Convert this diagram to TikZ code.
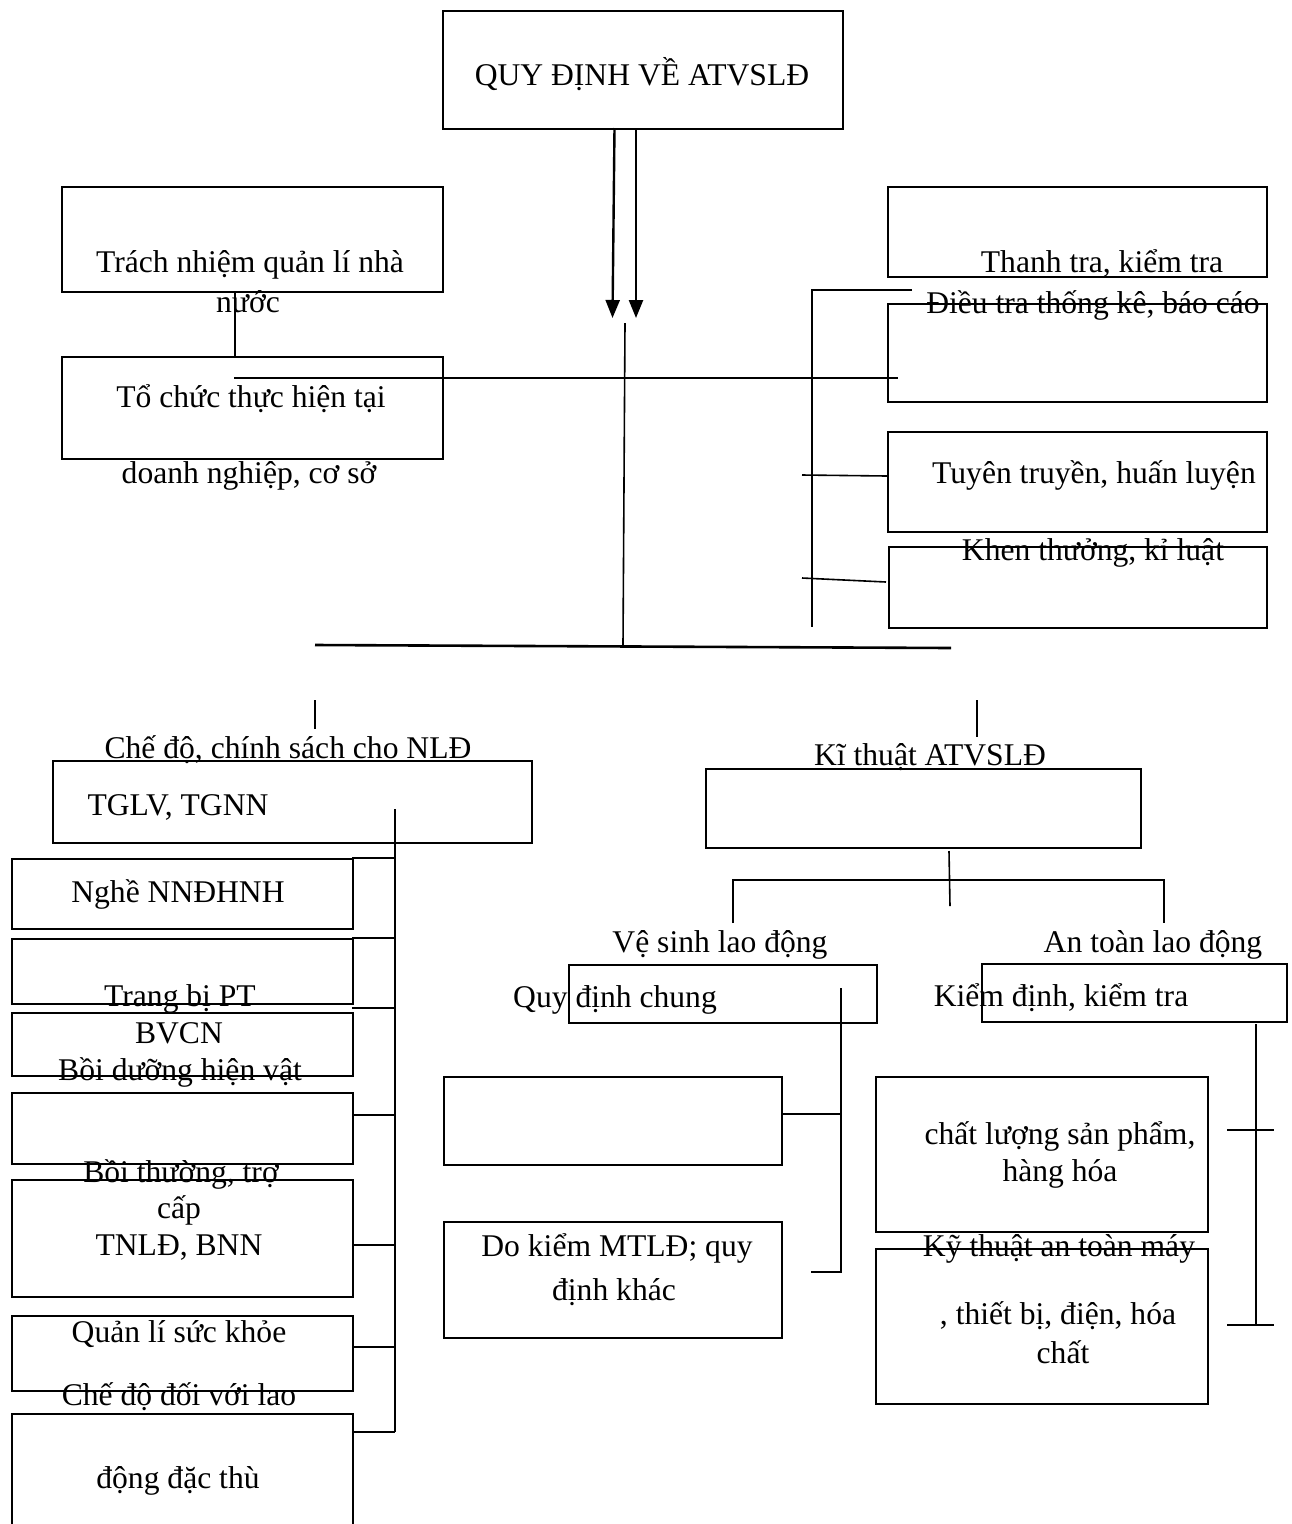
\documentclass[tikz,border=0pt]{standalone}
\usepackage{fontspec}
\setmainfont{Liberation Serif}
\usetikzlibrary{arrows.meta}
\tikzset{
  bx/.style={draw, line width=1.9pt, inner sep=0pt, anchor=north west},
  lbl/.style={anchor=base, inner sep=0pt, font=\fontsize{31.6}{36}\selectfont},
  ln/.style={line width=2.6pt},
  thinln/.style={line width=1.6pt},
  arr/.style={line width=2.4pt, -{Triangle[width=14pt,length=18pt]}},
}
\newcommand\bbox[5]{\node[bx, minimum width={(#4-#2)*1pt}, minimum height={(#5-#3)*1pt}] (#1) at (#2,#3) {};}
\begin{document}
\begin{tikzpicture}[x=1pt, y=-1pt]
\fill[white] (0,0) rectangle (1292,1524);
\useasboundingbox (0,0) rectangle (1292,1524);
\begin{scope}
\clip (0,0) rectangle (1292,1524);
% ---------- boxes ----------
\bbox{top}{442}{10}{842}{128}
\bbox{tn}{61}{186}{442}{291}
\bbox{tc}{61}{356}{442}{458}
\bbox{tt}{887}{186}{1266}{276}
\bbox{dt}{887}{303}{1266}{401}
\bbox{tu}{887}{431}{1266}{531}
\bbox{kt}{888}{546}{1266}{627}
\bbox{cd}{52}{760}{531}{842}
\bbox{bA}{11}{858}{352}{928}
\bbox{bB}{11}{938}{352}{1003}
\bbox{bC}{11}{1012}{352}{1075}
\bbox{bD}{11}{1092}{352}{1163}
\bbox{bE}{11}{1179}{352}{1296}
\bbox{bF}{11}{1315}{352}{1390}
\bbox{bG}{11}{1413}{352}{1540}
\bbox{kth}{705}{768}{1140}{847}
\bbox{qd}{568}{964}{876}{1022}
\bbox{eA}{443}{1076}{781}{1164}
\bbox{dk}{443}{1221}{781}{1337}
\bbox{kd}{981}{963}{1286}{1021}
\bbox{cl}{875}{1076}{1207}{1231}
\bbox{ky}{875}{1248}{1207}{1403}
% ---------- texts ----------
\node[lbl] (l1) at (642,85) {QUY ĐỊNH VỀ ATVSLĐ};
\node[lbl] (l2) at (250,272) {Trách nhiệm quản lí nhà};
\node[lbl] (l3) at (248,312) {nước};
\node[lbl] (l4) at (251,407) {Tổ chức thực hiện tại};
\node[lbl] (l5) at (249,483) {doanh nghiệp, cơ sở};
\node[lbl] (l6) at (1102,272) {Thanh tra, kiểm tra};
\node[lbl] (l7) at (1093,313) {Điều tra thống kê, báo cáo};
\node[lbl] (l8) at (1094,483) {Tuyên truyền, huấn luyện};
\node[lbl] (l9) at (1093,560) {Khen thưởng, kỉ luật};
\node[lbl] (l10) at (288,758) {Chế độ, chính sách cho NLĐ};
\node[lbl] (l11) at (930,765) {Kĩ thuật ATVSLĐ};
\node[lbl] (l12) at (178,815) {TGLV, TGNN};
\node[lbl] (l13) at (178,902) {Nghề NNĐHNH};
\node[lbl] (l14) at (180,1006) {Trang bị PT};
\node[lbl] (l15) at (179,1043) {BVCN};
\node[lbl] (l16) at (180,1080) {Bồi dưỡng hiện vật};
\node[lbl] (l17) at (181,1182) {Bồi thường, trợ};
\node[lbl] (l18) at (179,1218) {cấp};
\node[lbl] (l19) at (179,1255) {TNLĐ, BNN};
\node[lbl] (l20) at (179,1342) {Quản lí sức khỏe};
\node[lbl] (l21) at (179,1405) {Chế độ đối với lao};
\node[lbl] (l22) at (178,1488) {động đặc thù};
\node[lbl] (l23) at (720,952) {Vệ sinh lao động};
\node[lbl] (l24) at (615,1007) {Quy định chung};
\node[lbl] (l25) at (617,1256) {Do kiểm MTLĐ; quy};
\node[lbl] (l26) at (614,1300) {định khác};
\node[lbl] (l27) at (1153,952) {An toàn lao động};
\node[lbl] (l28) at (1061,1006) {Kiểm định, kiểm tra};
\node[lbl] (l29) at (1060,1144) {chất lượng sản phẩm,};
\node[lbl] (l30) at (1060,1181) {hàng hóa};
\node[lbl] (l31) at (1059,1256) {Kỹ thuật an toàn máy};
\node[lbl] (l32) at (1058,1324) {, thiết bị, điện, hóa};
\node[lbl] (l33) at (1063,1363) {chất};
% ---------- coordinates ----------
\coordinate (aL1) at (614.5,128); \coordinate (aL2) at (612.5,318);
\coordinate (aR1) at (636,128);   \coordinate (aR2) at (636,318);
\coordinate (cv1) at (625,323);   \coordinate (cv2) at (623,645);
\coordinate (hA) at (234,378);    \coordinate (hB) at (898,378);
\coordinate (lv1) at (235,291);   \coordinate (lv2) at (235,356);
\coordinate (rb1) at (812,290);   \coordinate (rb2) at (812,627);
\coordinate (rb3) at (912,290);
\coordinate (rc1) at (802,475);   \coordinate (rc2) at (887,476);
\coordinate (rd1) at (802,578);   \coordinate (rd2) at (886,582);
\coordinate (bh1) at (315,645);   \coordinate (bh2) at (951,648);
\coordinate (tk1) at (315,700);   \coordinate (tk2) at (315,729);
\coordinate (tk3) at (977,700);   \coordinate (tk4) at (977,737);
\coordinate (lb1) at (395,809);   \coordinate (lb2) at (395,1432);
\coordinate (kv1) at (949,851);   \coordinate (kv2) at (950,906);
\coordinate (kh1) at (733,880);   \coordinate (kh2) at (1164,880);
\coordinate (kh3) at (733,923);   \coordinate (kh4) at (1164,923);
\coordinate (vb1) at (841,988);   \coordinate (vb2) at (841,1272);
\coordinate (vb3) at (811,1272);  \coordinate (vb4) at (841,1114);
\coordinate (ab1) at (1256,1024); \coordinate (ab2) at (1256,1325);
\coordinate (at1) at (1227,1130); \coordinate (at2) at (1274,1130);
\coordinate (at3) at (1227,1325); \coordinate (at4) at (1274,1325);
% ---------- connectors ----------
\draw[arr] (aL1) -- (aL2);
\draw[arr] (aR1) -- (aR2);
\draw[thinln] (cv1) -- (cv2);
\draw[ln] (hA) -- (hB);
\draw[thinln] (lv1) -- (lv2);
\draw[ln] (rb3) -- (rb1) -- (rb2);
\draw[thinln] (rc1) -- (rc2);
\draw[thinln] (rd1) -- (rd2);
\draw[ln] (bh1) -- (bh2);
\draw[ln] (tk1) -- (tk2);
\draw[ln] (tk3) -- (tk4);
\draw[ln] (lb1) -- (lb2);
\foreach \yy in {858,938,1008,1115,1245,1347,1432}{
  \draw[ln] (352,\yy) -- (lb1 |- 0,\yy);
}
\draw[thinln] (kv1) -- (kv2);
\draw[ln] (kh3) -- (kh1) -- (kh2) -- (kh4);
\draw[ln] (vb1) -- (vb2) -- (vb3);
\draw[ln] (eA.east |- vb4) -- (vb4);
\draw[thinln] (ab1) -- (ab2);
\draw[ln] (at1) -- (at2);
\draw[ln] (at3) -- (at4);
\end{scope}
\end{tikzpicture}
\end{document}
